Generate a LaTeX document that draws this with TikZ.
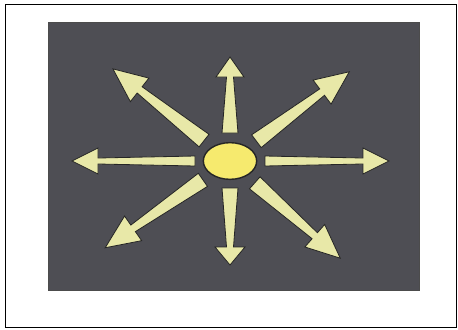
\documentclass[tikz,border=0pt]{standalone}
\usepackage{tikz}
\usetikzlibrary{shapes.geometric}

\definecolor{boardgray}{RGB}{78,78,84}
\definecolor{rayyellow}{RGB}{232,232,168}
\definecolor{sunyellow}{RGB}{246,234,110}

\begin{document}
\begin{tikzpicture}[
        x=0.03cm, y=-0.03cm,
        frame/.style={draw=black, line width=0.6pt},
        board/.style={fill=boardgray, draw=black!70, line width=0.8pt},
        sun/.style={ellipse, fill=sunyellow, draw=black!85, line width=1.2pt, minimum width=1.6cm, minimum height=1.1cm, inner sep=0pt},
        ray/.style={fill=rayyellow, draw=black!85, line width=0.7pt, line join=miter}
    ]
        \useasboundingbox (0,0) rectangle (458,329);
        % Frame and board
        \draw[frame] (5,4) rectangle (456,327);
        \draw[board] (48,22) rectangle (419,290);

        % Centre
        \node[sun] (sun) at (230,161) {};

        % Rays: angle / start / end / start half-width / neck half-width / head length / head half-width
        \foreach \a/\rs/\re/\ws/\wn/\hl/\hw in {
                90/28/104/8/3.5/20/14,
                270/27/104/8/3.5/18/15,
                180/35/158/5/3/26/13,
                0/35/159/5/3/26/13,
                141.8/33/149/8/4/34/15,
                36.8/33/149/8/4/34/15,
                214.8/33/152/8/4/34/15,
                -41.4/33/147/8/4/34/15}
        {
            \begin{scope}[shift={(sun.center)}, rotate=\a]
                \filldraw[ray] (\rs,-\ws) -- (\re-\hl,-\wn) -- (\re-\hl,-\hw) -- (\re,0)
                    -- (\re-\hl,\hw) -- (\re-\hl,\wn) -- (\rs,\ws) -- cycle;
            \end{scope}
        }
\end{tikzpicture}
\end{document}
